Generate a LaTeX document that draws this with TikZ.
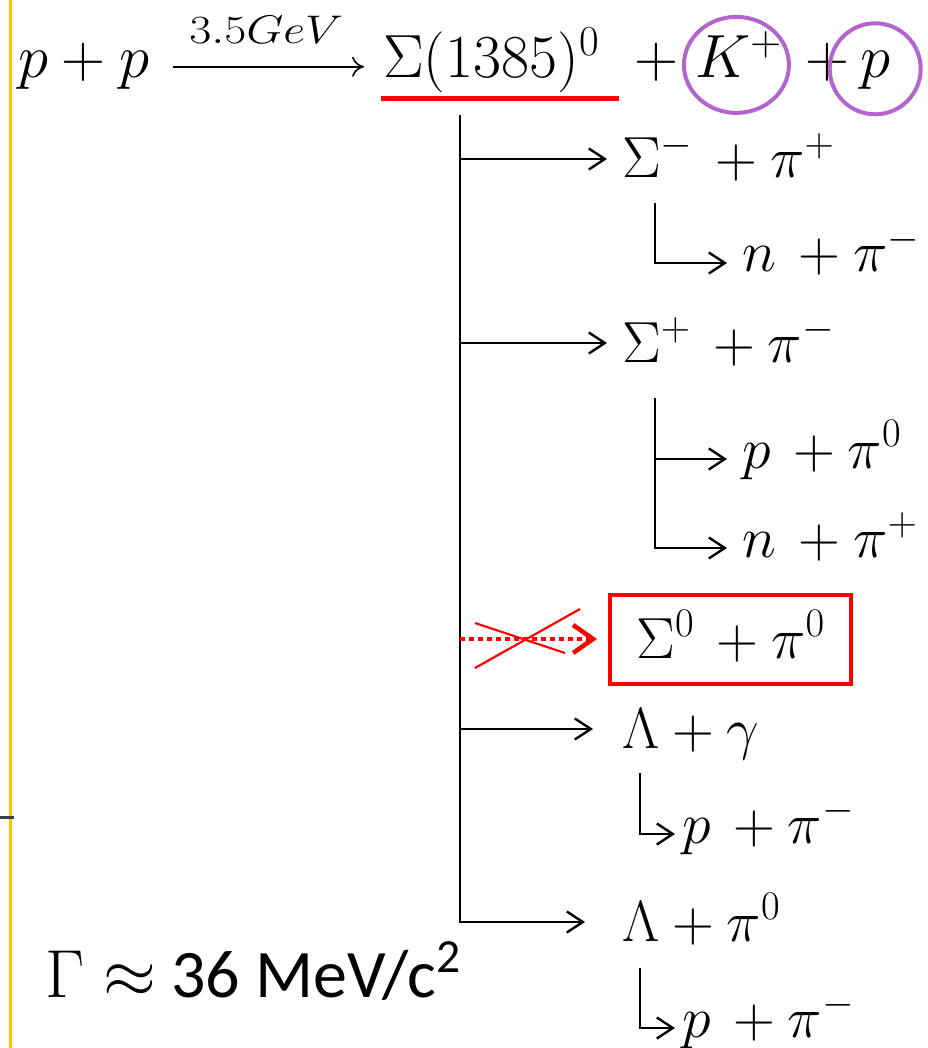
\RequirePackage{fix-cm}
\documentclass[tikz,border=0pt]{standalone}
\usepackage{fontspec}
\usepackage{graphicx}
\newfontfamily\calib{Carlito}
\usetikzlibrary{shapes,arrows.meta,positioning}
\definecolor{ringpurple}{RGB}{180,100,205}
\definecolor{slidegold}{RGB}{255,192,0}
\definecolor{tickgray}{RGB}{64,64,64}

\begin{document}
\begin{tikzpicture}[
    x=1pt, y=-1pt,
    eqn/.style={inner sep=0pt, anchor=base west, font=\fontsize{61}{66}\selectfont},
    decay/.style={anchor=west, inner xsep=15pt, inner ysep=0pt, text height=44pt,
                  text depth=6pt, font=\fontsize{58}{64}\selectfont},
    subdecay/.style={decay, text height=34pt, text depth=16pt},
    hilite/.style={decay, draw=red, line width=4pt, minimum width=241pt,
                   minimum height=89pt, inner xsep=10pt},
    ring/.style={ellipse, draw=ringpurple, line width=4pt, inner sep=0pt},
    arrow/.style={-{Straight Barb[length=16pt,width=21pt]}, line width=2.4pt},
    cmarrow/.style={-{Computer Modern Rightarrow[length=12pt,width=20pt]}, line width=1.6pt},
    noway/.style={red, line width=4.5pt, dash pattern=on 5pt off 4pt,
                  -{Straight Barb[length=20pt,width=28pt]}},
    strike/.style={red, line width=2.2pt},
    uline/.style={red, line width=5pt}
  ]
  \fill[white] (0,0) rectangle (927,1048);
  \useasboundingbox (0,0) rectangle (927,1048);

  % ---- Slide frame ----
  \draw[slidegold, line width=3pt] (10,0) -- (10,1048);
  \draw[tickgray, line width=3pt] (0,817) -- (14,817);

  % ---- Production ----
  \node[eqn] (pp)  at (18,78)  {$p+p$};
  \node[eqn] (sig) at (383,78) {$\Sigma(1385)^0$};
  \node[eqn, anchor=base] (pl1) at (656,78) {$+$};
  \node[eqn] (kp)  at (695,78) {$K^+$};
  \node[eqn, anchor=base] (pl2) at (827,78) {$+$};
  \node[eqn] (pr)  at (860,78) {$p$};
  \draw[cmarrow, shorten <=24pt, shorten >=19pt] (pp.east) -- (pp.east -| sig.west)
    node[midway, above=22pt, inner sep=0pt, font=\fontsize{40}{44}\selectfont]
    {\scalebox{1.2}[1]{$3.5GeV$}};
  \draw[uline, shorten <=-2pt, shorten >=-20pt]
    ([yshift=-5pt]sig.south west) -- ([yshift=-5pt]sig.south east);
  \node[ring, minimum width=105pt, minimum height=96pt] (kring)
    at ([xshift=-2pt,yshift=-10pt]kp.center) {};
  \node[ring, minimum size=91pt] (pring) at ([yshift=2pt]pr.center) {};

  % ---- Decay channels ----
  \coordinate (vtop) at (460,115);
  \node[decay] (sm) at (607,159) {$\Sigma^{-}\,+\pi^{+}$};
  \node[subdecay] (n1) at (727,263) {$n\,+\pi^{-}$};
  \node[decay] (sp) at (607,343) {$\Sigma^{+}\,+\pi^{-}$};
  \node[subdecay] (p0) at (727,459) {$p\,+\pi^{0}$};
  \node[subdecay] (np) at (727,548) {$n\,+\pi^{+}$};
  \node[hilite] (s0) at (608,639) {$\Sigma^{0}\,+\pi^{0}$};
  \node[decay] (lg) at (607,729) {$\Lambda+\gamma$};
  \node[subdecay, inner xsep=7pt] (pm1) at (675,834) {$p\,+\pi^{-}$};
  \node[decay] (lp) at (607,922) {$\Lambda+\pi^{0}$};
  \node[subdecay, inner xsep=7pt] (pm2) at (675,1028) {$p\,+\pi^{-}$};

  % ---- Arrows ----
  \draw[arrow] (vtop) |- (sm);
  \draw[arrow] (vtop) |- (sp);
  \draw[arrow, shorten >=14pt] (vtop) |- (lg);
  \draw[arrow, shorten >=22pt] (vtop) |- (lp);
  \draw[noway, shorten >=11pt] (vtop |- s0) -- (s0);
  \coordinate (xc) at (525,640);
  \draw[strike] (xc) ++(-50,-17) -- ++(90,30);
  \draw[strike] (xc) ++(-50,28) -- ++(105,-59);

  \coordinate (c1) at (655,203);
  \draw[arrow] (c1) |- (n1);
  \coordinate (c2) at (655,398);
  \draw[arrow] (c2) |- (p0);
  \draw[arrow] (c2) |- (np);
  \coordinate (c3) at (640,773);
  \draw[arrow] (c3) |- (pm1);
  \coordinate (c4) at (640,968);
  \draw[arrow] (c4) |- (pm2);

  % ---- Width ----
  \node[anchor=base west, inner sep=0pt, font=\calib\fontsize{68}{74}\selectfont]
    (gamma) at (45,997) {$\Gamma\approx$ 36 MeV/c\textsuperscript{2}};
\end{tikzpicture}
\end{document}
